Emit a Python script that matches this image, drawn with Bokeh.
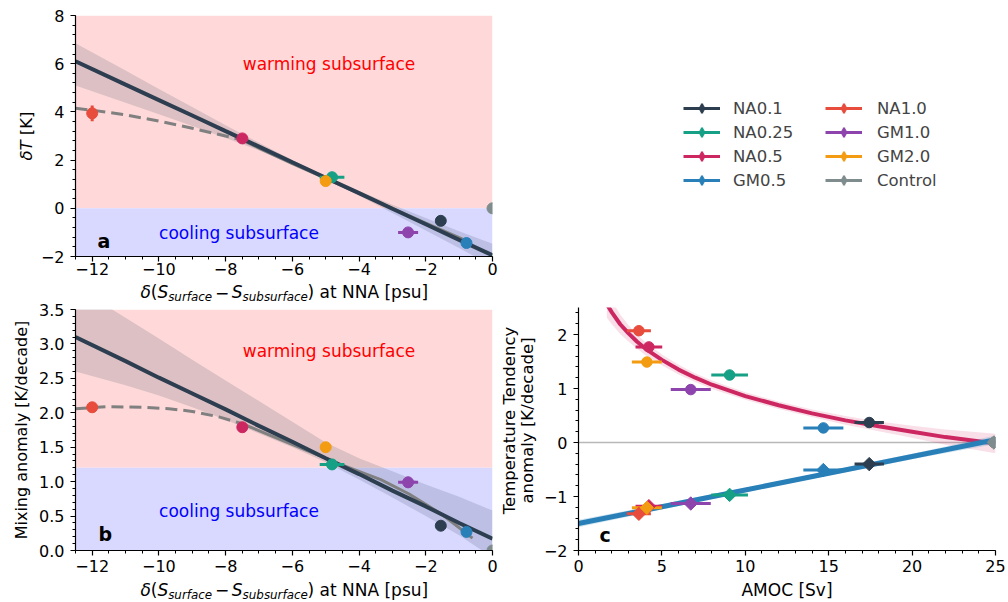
import numpy as np
from bokeh.plotting import figure
from bokeh.models import (Range1d, FixedTicker, CustomJSTickFormatter, BoxAnnotation, Label,
                          ColumnDataSource, Legend, LegendItem, Span)
from bokeh.layouts import row, column
from bokeh.embed import file_html
from bokeh.resources import INLINE

FONT = "DejaVu Sans"

# ---------------- data ----------------
runs = ["NA0.1", "NA0.25", "NA0.5", "GM0.5", "NA1.0", "GM1.0", "GM2.0", "Control"]
colors = ["#2c3e50", "#16a085", "#cd2762", "#2980b9", "#e74c3c", "#8e44ad", "#f39c12", "#7f8c8d"]

salinity = [-1.55, -4.81, -7.5, -0.78, -12.0, -2.53, -5.0, 0.0]
salinity_err = [0.05, 0.37, 0.05, 0.05, 0.05, 0.30, 0.10, 0.0]
delta_T = [-0.52, 1.29, 2.90, -1.44, 3.94, -1.00, 1.13, 0.0]
delta_T_err = [0.05, 0.05, 0.05, 0.05, 0.33, 0.05, 0.20, 0.0]
mixing = [0.36, 1.25, 1.79, 0.27, 2.08, 0.99, 1.50, 0.0]
mixing_err = [0.02, 0.02, 0.02, 0.02, 0.03, 0.08, 0.03, 0.0]
amoc = [17.43, 9.06, 4.22, 14.68, 3.62, 6.73, 4.10, 24.9]
amoc_err = [0.88, 1.10, 0.80, 1.20, 0.72, 1.20, 0.90, 0.0]
tend_circle = [0.37, 1.25, 1.77, 0.27, 2.07, 0.98, 1.49, 0.0]
tend_diamond = [-0.40, -0.97, -1.18, -0.51, -1.32, -1.13, -1.21, 0.0]

# linear fits with uncertainty bands (panels a, b)
fit_sal = [-12.5, -11, -10, -9, -8, -7, -6, -5, -4, -3, -2, -1, 0]
fitT = [6.10, 5.13, 4.49, 3.85, 3.20, 2.56, 1.91, 1.27, 0.63, -0.02, -0.66, -1.31, -1.95]
fitT_hi = [6.85, 5.72, 4.95, 4.20, 3.45, 2.72, 2.00, 1.33, 0.72, 0.15, -0.40, -0.95, -1.47]
fitT_lo = [5.10, 4.38, 3.90, 3.42, 2.92, 2.40, 1.82, 1.20, 0.52, -0.20, -0.92, -1.65, -2.40]
fitMix = [3.10, 2.75, 2.51, 2.28, 2.05, 1.81, 1.58, 1.34, 1.11, 0.87, 0.64, 0.40, 0.17]
fitMix_hi = [3.83, 3.38, 3.08, 2.77, 2.47, 2.17, 1.87, 1.57, 1.34, 1.15, 0.96, 0.78, 0.58]
fitMix_lo = [2.60, 2.40, 2.25, 2.08, 1.90, 1.70, 1.50, 1.28, 1.03, 0.77, 0.50, 0.22, -0.10]

# curved (gray) fits: dashed extrapolation + solid part
curveT_x_dash = [-12.5, -12, -11, -10, -9, -8, -7.5]
curveT_dash = [4.15, 4.07, 3.88, 3.62, 3.32, 3.00, 2.83]
curveT_x_solid = [-7.5, -7, -6.5, -6, -5, -4, -3, -2, -1, -0.78]
curveT_solid = [2.83, 2.50, 2.17, 1.85, 1.24, 0.62, 0.00, -0.62, -1.22, -1.35]
curveMix_x_dash = [-12.5, -11.5, -10.5, -9.7, -9, -8.2, -7.5]
curveMix_dash = [2.06, 2.09, 2.08, 2.06, 2.02, 1.94, 1.84]
curveMix_x_solid = [-7.5, -6.5, -5.5, -4.5, -3.35, -2.5, -1.5, -0.6]
curveMix_solid = [1.84, 1.64, 1.44, 1.24, 1.03, 0.82, 0.52, 0.18]

# panel c fits
curve_amoc = [1.7, 2, 2.5, 3, 3.5, 4, 5, 6, 7, 8, 10, 12, 14, 16, 18, 20, 22, 25]
curve_tend = [2.56, 2.41, 2.19, 2.02, 1.87, 1.74, 1.53, 1.35, 1.20, 1.07, 0.86, 0.69, 0.54, 0.41, 0.30, 0.20, 0.10, -0.02]
curve_hw = [0.25, 0.22, 0.18, 0.15, 0.13, 0.12, 0.10, 0.09, 0.08, 0.08, 0.07, 0.07, 0.07, 0.08, 0.09, 0.11, 0.14, 0.18]
line_amoc = [0, 5, 10, 15, 20, 25]
line_tend = [-1.50, -1.19, -0.88, -0.57, -0.26, 0.05]
line_hw = [0.07, 0.05, 0.04, 0.04, 0.05, 0.08]

warm_threshold_a = 0.0
warm_threshold_b = 1.2

# ---------------- helpers ----------------
int_fmt = CustomJSTickFormatter(code="return (tick < 0 ? '\u2212' : '') + Math.abs(tick).toFixed(0);")
dec_fmt = CustomJSTickFormatter(code="return (tick < 0 ? '\u2212' : '') + Math.abs(tick).toFixed(1);")

MID = 0.346  # offset (in em) between text middle and alphabetic baseline for DejaVu Sans


def make_fig(w, h, xr, yr, left, right, top, bottom, xstand=4):
    p = figure(width=w, height=h, x_range=Range1d(*xr), y_range=Range1d(*yr),
               output_backend="svg", toolbar_location=None,
               min_border_left=left, min_border_right=right,
               min_border_top=top, min_border_bottom=bottom)
    p.outline_line_color = None
    p.grid.visible = False
    p.background_fill_color = "white"
    p.border_fill_color = "white"
    for ax in p.axis:
        ax.axis_line_color = "black"
        ax.axis_line_width = 1.2
        ax.major_tick_line_color = "black"
        ax.major_tick_line_width = 1.2
        ax.major_tick_out = 5
        ax.major_tick_in = 0
        ax.minor_tick_line_color = "black"
        ax.minor_tick_line_width = 1
        ax.minor_tick_out = 3
        ax.minor_tick_in = 0
        ax.major_label_text_font = FONT
        ax.major_label_text_font_size = "16px"
        ax.major_label_text_color = "black"
    p.xaxis.major_label_standoff = xstand
    p.yaxis.major_label_standoff = 6
    return p


def strip(w, h, xr=None):
    """A figure without axes; it holds axis titles.  Its y range is pixels from the top."""
    s = figure(width=w, height=h, x_range=Range1d(*(xr if xr else (0, w))),
               y_range=Range1d(h, 0), x_axis_type=None, y_axis_type=None,
               output_backend="svg", toolbar_location=None, min_border_left=0,
               min_border_right=0, min_border_top=0, min_border_bottom=0)
    s.outline_line_color = None
    s.background_fill_color = "white"
    s.border_fill_color = "white"
    return s


def lab(p, x, y, text, size=17, style="normal", align="left", baseline="middle",
        angle=0.0, color="black"):
    p.add_layout(Label(x=x, y=y, text=text, text_font=FONT, text_font_size=f"{size}px",
                       text_font_style=style, text_align=align, text_baseline=baseline,
                       angle=angle, text_color=color))


def points(p, x, y, xerr, yerr, marker, size, angle=0.0):
    src = ColumnDataSource(dict(
        x=x, y=y,
        x0=[a - b for a, b in zip(x, xerr)], x1=[a + b for a, b in zip(x, xerr)],
        y0=[a - b for a, b in zip(y, yerr)], y1=[a + b for a, b in zip(y, yerr)],
        c=colors))
    p.segment(x0="x0", y0="y", x1="x1", y1="y", line_color="c", line_width=3, source=src)
    p.segment(x0="x", y0="y0", x1="x", y1="y1", line_color="c", line_width=3, source=src)
    p.scatter("x", "y", marker=marker, size=size, angle=angle, fill_color="c",
              line_color="c", source=src)


# page pixel -> data helpers for annotation placement inside frames
def Xab(px):
    return -12.5 + (px - 73) / 419 * 12.5


def Ya(py):
    return 8 - (py - 15) / 241 * 10


def Yb(py):
    return 3.5 - (py - 309) / 241 * 3.5


def Xc(px):
    return (px - 577) / 418 * 25


def Yc(py):
    return 2.5 - (py - 307) / 243 * 4.5


def sal_label(s, base_main, base_sub):
    F, f = 17, 11.9
    pieces = [(138.4, "δ", F, "italic", False),
              (148.6, "(", F, "normal", False),
              (155.3, "S", F, "italic", False),
              (166.1, "surface", f, "italic", True),
              (213.1, "−", F, "normal", False),
              (230.1, "S", F, "italic", False),
              (240.9, "subsurface", f, "italic", True),
              (306.2, ")", F, "normal", False),
              (318.2, "at NNA [psu]", F, "normal", False)]
    for px, t, sz, st, sub in pieces:
        y = (base_sub - MID * f) if sub else (base_main - MID * F)
        lab(s, Xab(px), y, t, size=sz, style=st)


sal_ticker = FixedTicker(ticks=list(range(-12, 1, 2)),
                         minor_ticks=[float(v) for v in np.arange(-12.5, 0.01, 0.5)])

# ---------------- panel a ----------------
pa = make_fig(462, 281, (-12.5, 0), (-2, 8), 37, 6, 15, 25, xstand=1)
pa.add_layout(BoxAnnotation(bottom=warm_threshold_a, fill_color="#ffd9d9", fill_alpha=1,
                            line_color=None, level="underlay"))
pa.add_layout(BoxAnnotation(top=warm_threshold_a, fill_color="#d9d9ff", fill_alpha=1,
                            line_color=None, level="underlay"))
pa.varea(x=fit_sal, y1=fitT_lo, y2=fitT_hi, fill_color="#34495e", fill_alpha=0.17)
pa.line(curveT_x_dash, curveT_dash, line_color="#808080", line_width=3, line_dash="12 6")
pa.line(curveT_x_solid, curveT_solid, line_color="#808080", line_width=3)
pa.line(fit_sal, fitT, line_color="#2c3e50", line_width=4)
points(pa, salinity, delta_T, salinity_err, delta_T_err, "circle", 11)
pa.xaxis.ticker = sal_ticker
pa.xaxis.formatter = int_fmt
pa.yaxis.ticker = FixedTicker(ticks=list(range(-2, 9, 2)),
                              minor_ticks=[float(v) for v in np.arange(-2, 8.01, 0.4)])
pa.yaxis.formatter = int_fmt
lab(pa, -4.9, Ya(63), "warming subsurface", color="#ff0000", align="center")
lab(pa, -7.6, Ya(232), "cooling subsurface", color="#0000ff", align="center")
lab(pa, Xab(95), Ya(247 - MID * 19), "a", size=19, style="bold")

# strips below a panel share its frame alignment, so they use the panel's x range
xla = strip(462, 22, (-12.5, 0))
sal_label(xla, 297.5 - 281, 300.2 - 281)

# ---------------- panel b ----------------
pb = make_fig(462, 275, (-12.5, 0), (0, 3.5), 37, 6, 6, 28)
pb.add_layout(BoxAnnotation(bottom=warm_threshold_b, fill_color="#ffd9d9", fill_alpha=1,
                            line_color=None, level="underlay"))
pb.add_layout(BoxAnnotation(top=warm_threshold_b, fill_color="#d9d9ff", fill_alpha=1,
                            line_color=None, level="underlay"))
pb.varea(x=fit_sal, y1=fitMix_lo, y2=fitMix_hi, fill_color="#34495e", fill_alpha=0.17)
pb.line(curveMix_x_dash, curveMix_dash, line_color="#808080", line_width=3, line_dash="12 6")
pb.line(curveMix_x_solid, curveMix_solid, line_color="#808080", line_width=3)
pb.line(fit_sal, fitMix, line_color="#2c3e50", line_width=4)
points(pb, salinity, mixing, salinity_err, mixing_err, "circle", 11)
pb.xaxis.ticker = sal_ticker
pb.xaxis.formatter = int_fmt
pb.yaxis.ticker = FixedTicker(ticks=[0, 0.5, 1.0, 1.5, 2.0, 2.5, 3.0, 3.5],
                              minor_ticks=[float(v) for v in np.arange(0, 3.51, 0.1)])
pb.yaxis.formatter = dec_fmt
lab(pb, -4.9, Yb(350), "warming subsurface", color="#ff0000", align="center")
lab(pb, -7.6, Yb(510.7), "cooling subsurface", color="#0000ff", align="center")
lab(pb, Xab(96), Yb(540 - MID * 19), "b", size=19, style="bold")

xlb = strip(462, 24, (-12.5, 0))
sal_label(xlb, 595 - 578, 598.5 - 578)

# y-axis titles for a and b
yla = strip(36, 303)
lab(yla, 26, 160, "δT", size=16.5, style="italic", angle=np.pi / 2)
lab(yla, 26, 134.8, "[K]", size=16.5, angle=np.pi / 2)
ylb = strip(36, 299)
lab(ylb, 20.5, 126.5, "Mixing anomaly [K/decade]", size=16, align="center", angle=np.pi / 2)


# ---------------- legend ----------------
def legend_fig(w, left, its, standoff):
    f = figure(width=w, height=290, x_range=Range1d(10, 11), y_range=Range1d(10, 11),
               x_axis_type=None, y_axis_type=None, output_backend="svg",
               toolbar_location=None, min_border_left=left, min_border_top=96,
               min_border_right=0, min_border_bottom=0)
    f.outline_line_color = None
    f.background_fill_color = "white"
    f.border_fill_color = "white"
    items = []
    for name, col in its:
        rl = f.line([0, 1], [0, 0], line_color=col, line_width=3)
        rc = f.scatter([0], [0], marker="cross", size=10, line_color=col, line_width=2.5)
        rd = f.scatter([0], [0], marker="diamond", size=10, fill_color=col, line_color=col)
        items.append(LegendItem(label=name, renderers=[rl, rc, rd]))
    leg = Legend(items=items, location="top_left", glyph_width=37, glyph_height=24,
                 label_height=24, spacing=0, label_standoff=standoff, padding=0, margin=0,
                 border_line_color=None, background_fill_alpha=0, label_text_font=FONT,
                 label_text_font_size="16.5px")
    f.add_layout(leg)
    return f


pairs = list(zip(runs, colors))
pl1 = legend_fig(320, 185, pairs[:4], 13)
pl2 = legend_fig(190, 7, pairs[4:], 15)

# ---------------- panel c ----------------
pc = make_fig(468, 288, (0, 25), (-2, 2.5), 37, 13, 17, 28)
pc.add_layout(Span(location=0, dimension="width", line_color="#b8b8b8", line_width=1.3,
                   level="underlay"))
pc.varea(x=curve_amoc, y1=[a - b for a, b in zip(curve_tend, curve_hw)],
         y2=[a + b for a, b in zip(curve_tend, curve_hw)], fill_color="#cd2762", fill_alpha=0.15)
pc.line(curve_amoc, curve_tend, line_color="#cd2762", line_width=4)
pc.varea(x=line_amoc, y1=[a - b for a, b in zip(line_tend, line_hw)],
         y2=[a + b for a, b in zip(line_tend, line_hw)], fill_color="#2980b9", fill_alpha=0.2)
pc.line(line_amoc, line_tend, line_color="#2980b9", line_width=5)
zeros = [0.0] * len(amoc)
points(pc, amoc, tend_circle, amoc_err, zeros, "circle", 10.5)
points(pc, amoc, tend_diamond, amoc_err, zeros, "square", 9.5, angle=np.pi / 4)
pc.xaxis.ticker = FixedTicker(ticks=[0, 5, 10, 15, 20, 25], minor_ticks=list(range(0, 26)))
pc.xaxis.formatter = int_fmt
pc.yaxis.ticker = FixedTicker(ticks=[-2, -1, 0, 1, 2],
                              minor_ticks=[float(v) for v in np.arange(-2, 2.41, 0.2)])
pc.yaxis.formatter = int_fmt
lab(pc, Xc(598), Yc(541 - MID * 19), "c", size=19, style="bold")

xlc = strip(468, 24, (0, 25))
lab(xlc, Xc(786), 595 - 578 - MID * 17, "AMOC [Sv]", size=17, align="center")
ylc = strip(42, 312)
lab(ylc, 11, 130, "Temperature Tendency", size=16.5, align="center", angle=np.pi / 2)
lab(ylc, 29, 130, "anomaly [K/decade]", size=16.5, align="center", angle=np.pi / 2)

left_block = row(column(yla, ylb), column(pa, xla, pb, xlb))
right_block = column(row(pl1, pl2), row(ylc, column(pc, xlc)))
layout = row(left_block, right_block)
open("out.html", "w").write(file_html(layout, INLINE))
